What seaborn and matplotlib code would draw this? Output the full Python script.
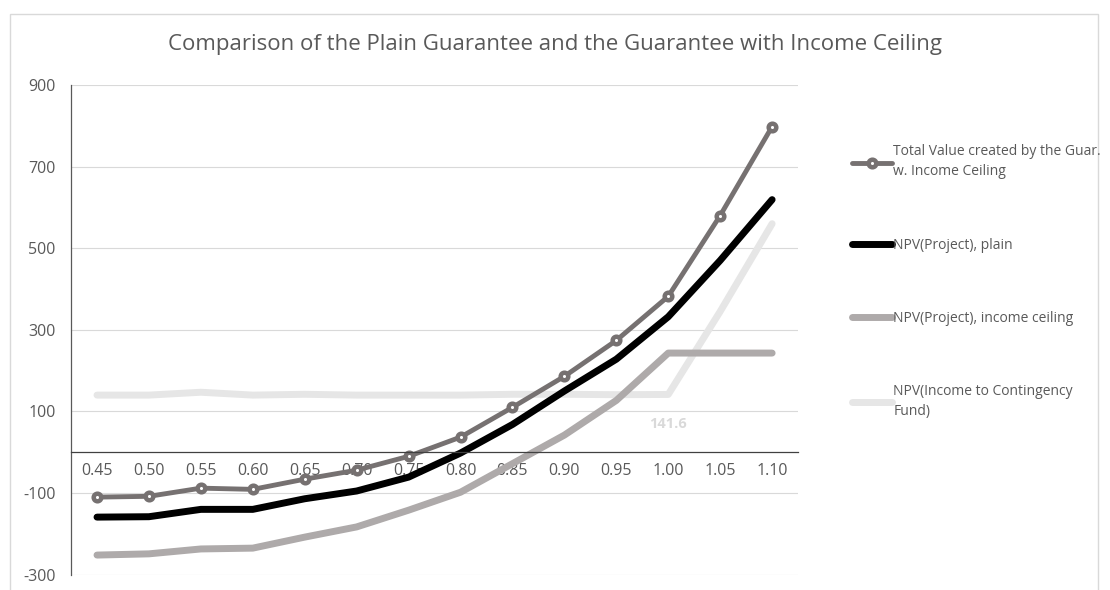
import numpy as np
import pandas as pd
import matplotlib
matplotlib.use("Agg")
import matplotlib.pyplot as plt
import seaborn as sns
from matplotlib.patches import Rectangle

# values
levels = ['0.45', '0.50', '0.55', '0.60', '0.65', '0.70', '0.75',
          '0.80', '0.85', '0.90', '0.95', '1.00', '1.05', '1.10']
total_value = [-110, -108, -88, -91, -66, -44, -10, 37, 110, 186, 274, 382, 580, 798]
npv_plain = [-159, -158, -140, -140, -114, -95, -61, -2, 68, 150, 228, 332, 470, 619]
npv_ceiling = [-252, -249, -237, -235, -208, -183, -142, -98, -28, 42, 127, 243, 243, 243]
npv_fund = [140, 140, 147, 140, 142, 140, 140, 140, 142, 142, 141, 141.6, 345, 560]

labels = ['Total Value created by the Guar.\nw. Income Ceiling',
          'NPV(Project), plain',
          'NPV(Project), income ceiling',
          'NPV(Income to Contingency\nFund)']

sns.set_style('white')
plt.rcParams['font.family'] = ['Open Sans', 'DejaVu Sans']
plt.rcParams['axes.unicode_minus'] = False

txt = '#595959'

fig = plt.figure(figsize=(11.1, 5.9), dpi=100)
ax = fig.add_axes([0.064, 0.026, 0.655, 0.830])

# grid first so lines sit on top
ax.set_yticks(np.arange(-300, 901, 200))
ax.set_ylim(-300, 900)
ax.grid(axis='y', color='#d9d9d9', lw=0.8)
ax.set_axisbelow(True)

sns.lineplot(x=levels, y=npv_fund, ax=ax, color='#e6e6e6', lw=5,
             solid_capstyle='round', label=labels[3], sort=False)
sns.lineplot(x=levels, y=npv_ceiling, ax=ax, color='#aeaaaa', lw=5,
             solid_capstyle='round', label=labels[2], sort=False)
sns.lineplot(x=levels, y=npv_plain, ax=ax, color='black', lw=5,
             solid_capstyle='round', label=labels[1], sort=False)
sns.lineplot(x=levels, y=total_value, ax=ax, color='#767171', lw=3.5,
             marker='o', markersize=5.5, markerfacecolor='white',
             markeredgecolor='#767171', markeredgewidth=3.2,
             solid_capstyle='round', label=labels[0], sort=False)

ax.set_xlim(-0.5, len(levels) - 0.5)
ax.set_xlabel('')
ax.set_ylabel('')

i = levels.index('1.00')
ax.annotate(f'{npv_fund[i]:.1f}', (i, npv_fund[i]), xytext=(0, -21),
            textcoords='offset points', ha='center', va='center',
            fontsize=10.5, fontweight='bold', color='#d9d9d9')

for s in ['top', 'right']:
    ax.spines[s].set_visible(False)
ax.spines['bottom'].set_position(('data', 0))
ax.spines['bottom'].set_color('#404040')
ax.spines['bottom'].set_linewidth(0.9)
ax.spines['left'].set_color('#595959')
ax.spines['left'].set_linewidth(0.9)

ax.tick_params(axis='x', length=0, pad=8, labelsize=11.5, labelcolor=txt)
ax.tick_params(axis='y', length=0, pad=11, labelsize=11.5, labelcolor=txt)

handles, labs = ax.get_legend_handles_labels()
ax.get_legend().remove()
order = [3, 2, 1, 0]
leg = fig.legend([handles[k] for k in order], [labs[k] for k in order],
                 loc='upper left', bbox_to_anchor=(0.761, 0.767), frameon=False,
                 borderpad=0, fontsize=10, labelcolor=txt, handlelength=2.9,
                 handletextpad=0.1, labelspacing=4.2)
for t in leg.get_texts():
    t.set_linespacing(1.45)

fig.suptitle('Comparison of the Plain Guarantee and the Guarantee with Income Ceiling',
             x=0.5, y=0.924, va='center', fontsize=16, color=txt)

fig.add_artist(Rectangle((10 / 1110, -0.05), 1098 / 1110 - 10 / 1110, 1.05 - 14 / 590,
                         transform=fig.transFigure, fill=False,
                         edgecolor='#d9d9d9', lw=1))

fig.savefig('out.png', dpi=100)
